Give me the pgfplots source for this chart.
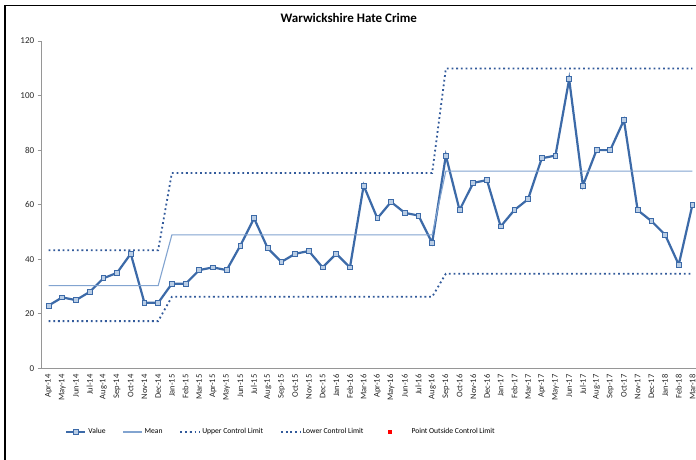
\documentclass[border=0pt]{standalone}
\usepackage{fontspec}
\setmainfont{Carlito}
\usepackage{pgfplots}
\usepackage{pgfplotstable}
\pgfplotsset{compat=1.18}
\definecolor{valline}{RGB}{60,106,168}
\definecolor{valfill}{RGB}{185,205,229}
\definecolor{meanline}{RGB}{130,164,208}
\definecolor{limline}{RGB}{50,90,155}
\definecolor{axgray}{RGB}{150,150,150}
\pgfplotstableread{
idx value mean ucl lcl
0 23 30.3 43.3 17.3
1 26 30.3 43.3 17.3
2 25 30.3 43.3 17.3
3 28 30.3 43.3 17.3
4 33 30.3 43.3 17.3
5 35 30.3 43.3 17.3
6 42 30.3 43.3 17.3
7 24 30.3 43.3 17.3
8 24 30.3 43.3 17.3
9 31 48.9 71.6 26.2
10 31 48.9 71.6 26.2
11 36 48.9 71.6 26.2
12 37 48.9 71.6 26.2
13 36 48.9 71.6 26.2
14 45 48.9 71.6 26.2
15 55 48.9 71.6 26.2
16 44 48.9 71.6 26.2
17 39 48.9 71.6 26.2
18 42 48.9 71.6 26.2
19 43 48.9 71.6 26.2
20 37 48.9 71.6 26.2
21 42 48.9 71.6 26.2
22 37 48.9 71.6 26.2
23 67 48.9 71.6 26.2
24 55 48.9 71.6 26.2
25 61 48.9 71.6 26.2
26 57 48.9 71.6 26.2
27 56 48.9 71.6 26.2
28 46 48.9 71.6 26.2
29 78 72.3 109.9 34.7
30 58 72.3 109.9 34.7
31 68 72.3 109.9 34.7
32 69 72.3 109.9 34.7
33 52 72.3 109.9 34.7
34 58 72.3 109.9 34.7
35 62 72.3 109.9 34.7
36 77 72.3 109.9 34.7
37 78 72.3 109.9 34.7
38 106 72.3 109.9 34.7
39 67 72.3 109.9 34.7
40 80 72.3 109.9 34.7
41 80 72.3 109.9 34.7
42 91 72.3 109.9 34.7
43 58 72.3 109.9 34.7
44 54 72.3 109.9 34.7
45 49 72.3 109.9 34.7
46 38 72.3 109.9 34.7
47 60 72.3 109.9 34.7
}\datatable
\begin{document}
\begin{tikzpicture}
\useasboundingbox (0,0) rectangle (696pt,459pt);
\clip (0,0) rectangle (696pt,459pt);
\fill[white] (0,0) rectangle (696pt,459pt);
\begin{axis}[
  at={(41.7pt,90.7pt)}, anchor=south west,
  scale only axis, width=657.6pt, height=327.3pt,
  xmin=-0.5, xmax=47.5, ymin=0, ymax=120,
  clip=false,
  axis x line*=bottom, axis y line*=left,
  axis line style={-, axgray, line width=0.8pt},
  ytick={0,20,...,120},
  xtick={0,...,47},
  xticklabels={Apr-14,May-14,Jun-14,Jul-14,Aug-14,Sep-14,Oct-14,Nov-14,Dec-14,Jan-15,Feb-15,Mar-15,Apr-15,May-15,Jun-15,Jul-15,Aug-15,Sep-15,Oct-15,Nov-15,Dec-15,Jan-16,Feb-16,Mar-16,Apr-16,May-16,Jun-16,Jul-16,Aug-16,Sep-16,Oct-16,Nov-16,Dec-16,Jan-17,Feb-17,Mar-17,Apr-17,May-17,Jun-17,Jul-17,Aug-17,Sep-17,Oct-17,Nov-17,Dec-17,Jan-18,Feb-18,Mar-18},
  xtick style={draw=none},
  ytick style={axgray, line width=0.8pt},
  tick align=outside, major tick length=4pt,
  /pgf/number format/assume math mode=true,
  yticklabel style={font=\fontsize{9}{10}\selectfont, text=black!85},
  xticklabel style={font=\fontsize{8.5}{10}\selectfont, text=black!85, rotate=90, anchor=east, inner sep=2pt},
  title={\textbf{Warwickshire Hate Crime}},
  title style={font=\fontsize{13}{15}\selectfont, at={(axis description cs:0.467,1.052)}, anchor=center},
  legend style={draw=none, fill=none, font=\fontsize{7.6}{9}\selectfont, at={(axis description cs:0.031,-0.1946)}, anchor=west, legend columns=5, /tikz/every even column/.append style={column sep=15pt}, nodes={inner xsep=2pt}},
  legend cell align=left,
  legend image code/.code={\draw[mark repeat=2,mark phase=2,#1] plot coordinates {(0pt,0pt) (9.5pt,0pt) (19pt,0pt)};},
]
\addplot[valline, line width=2.2pt, mark=square*, mark size=2.4pt, mark options={fill=valfill, draw=valline, line width=0.8pt}] table[x=idx, y=value] {\datatable};
\addlegendentry{Value}
\addplot[meanline, line width=1.1pt] table[x=idx, y=mean] {\datatable};
\addlegendentry{Mean}
\addplot[limline, line width=1.8pt, dash pattern=on 1.8pt off 2.9pt] table[x=idx, y=ucl] {\datatable};
\addlegendentry{Upper Control Limit}
\addplot[limline, line width=1.8pt, dash pattern=on 1.8pt off 2.9pt] table[x=idx, y=lcl] {\datatable};
\addlegendentry{Lower Control Limit}
\addlegendimage{draw=none, legend image code/.code={\fill[red] (7.6pt,-1.7pt) rectangle (11pt,1.7pt); \path[draw=none, fill=none] (0pt,0pt) -- (29pt,0pt);}}
\addlegendentry{Point Outside Control Limit}
\end{axis}
\draw[line width=1.5pt, black] (5pt,-5pt) |- (720pt,453.5pt);
\end{tikzpicture}
\end{document}
